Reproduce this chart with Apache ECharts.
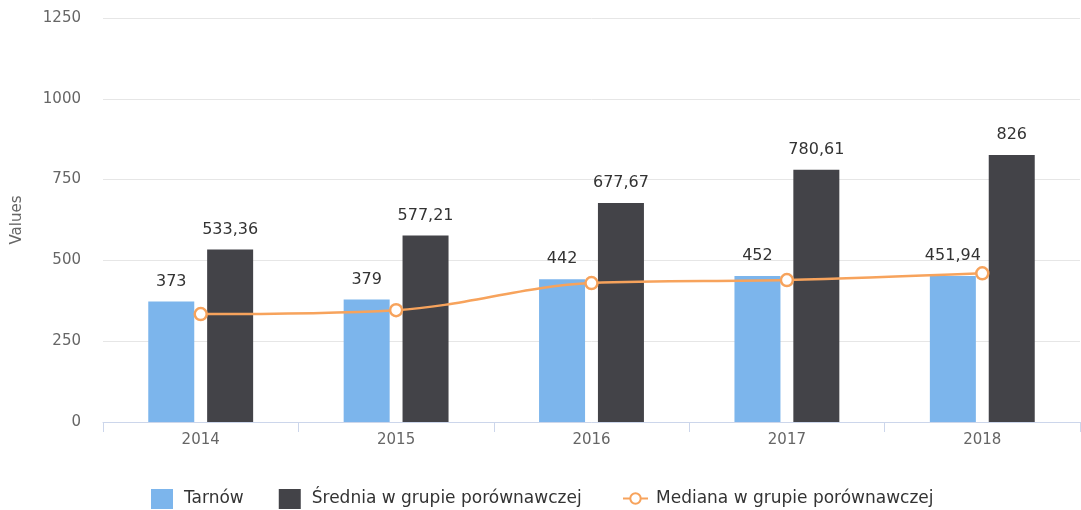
<!DOCTYPE html>
<html>
<head>
<meta charset="utf-8">
<script src="https://cdn.jsdelivr.net/npm/echarts@6/dist/echarts.min.js"></script>
<style>
  html, body { margin: 0; padding: 0; background: #fff; }
  #chart { width: 1081px; height: 510px; }
</style>
</head>
<body>
<div id="chart"></div>
<script>
const years = ['2014', '2015', '2016', '2017', '2018']
const tarnow = [373, 379, 442, 452, 451.94]
const srednia = [533.36, 577.21, 677.67, 780.61, 826]
const mediana = [334, 346, 430, 439, 460]
const yTicks = [0, 250, 500, 750, 1000, 1250]

const font = 'DejaVu Sans'
const fmt = v => String(v).replace('.', ',')

const barLabel = {
  show: true, position: 'top', distance: 12,
  color: '#333', fontSize: 16, fontFamily: font,
  formatter: p => fmt(p.value)
}

const chart = echarts.init(document.getElementById('chart'))
chart.setOption({
  animation: false,
  textStyle: { fontFamily: font },
  grid: { left: 103, right: 1, top: 18, bottom: 88 },
  legend: [{
    top: 484,
    left: 146,
    itemWidth: 22,
    itemHeight: 20,
    itemGap: 35,
    textStyle: { fontFamily: font, fontSize: 17, color: '#333', padding: [0, 0, 0, 6] },
    data: [
      { name: 'Tarnów', icon: 'rect' },
      { name: 'Średnia w grupie porównawczej', icon: 'rect' }
    ]
  }, {
    top: 485,
    left: 617,
    itemWidth: 25,
    itemHeight: 13,
    textStyle: { fontFamily: font, fontSize: 17, color: '#333', padding: [0, 0, 0, 3] },
    data: ['Mediana w grupie porównawczej']
  }],
  xAxis: {
    type: 'category',
    data: years,
    axisLine: { lineStyle: { color: '#ccd6eb' } },
    axisTick: { show: true, length: 10, lineStyle: { color: '#ccd6eb' } },
    axisLabel: { color: '#666', fontSize: 15, fontFamily: font, margin: 11 }
  },
  yAxis: {
    type: 'value',
    min: yTicks[0],
    max: yTicks[yTicks.length - 1],
    interval: 250,
    name: 'Values',
    nameLocation: 'middle',
    nameGap: 78,
    nameTextStyle: { color: '#666', fontSize: 15, fontFamily: font },
    axisLabel: { color: '#666', fontSize: 15, fontFamily: font, margin: 22, formatter: v => String(v) },
    splitLine: { lineStyle: { color: '#e6e6e6' } }
  },
  series: [
    {
      name: 'Tarnów',
      type: 'bar',
      data: tarnow,
      barWidth: 46,
      barGap: '28%',
      itemStyle: { color: '#7cb5ec' },
      label: barLabel
    },
    {
      name: 'Średnia w grupie porównawczej',
      type: 'bar',
      data: srednia,
      barWidth: 46,
      itemStyle: { color: '#434348' },
      label: barLabel
    },
    {
      name: 'Mediana w grupie porównawczej',
      type: 'line',
      data: mediana,
      smooth: 0.35,
      symbol: 'circle',
      symbolSize: 12,
      lineStyle: { color: '#f7a35c', width: 2.5 },
      itemStyle: { color: '#fff', borderColor: '#f7a35c', borderWidth: 2.5 },
      z: 5
    }
  ]
})
</script>
</body>
</html>
